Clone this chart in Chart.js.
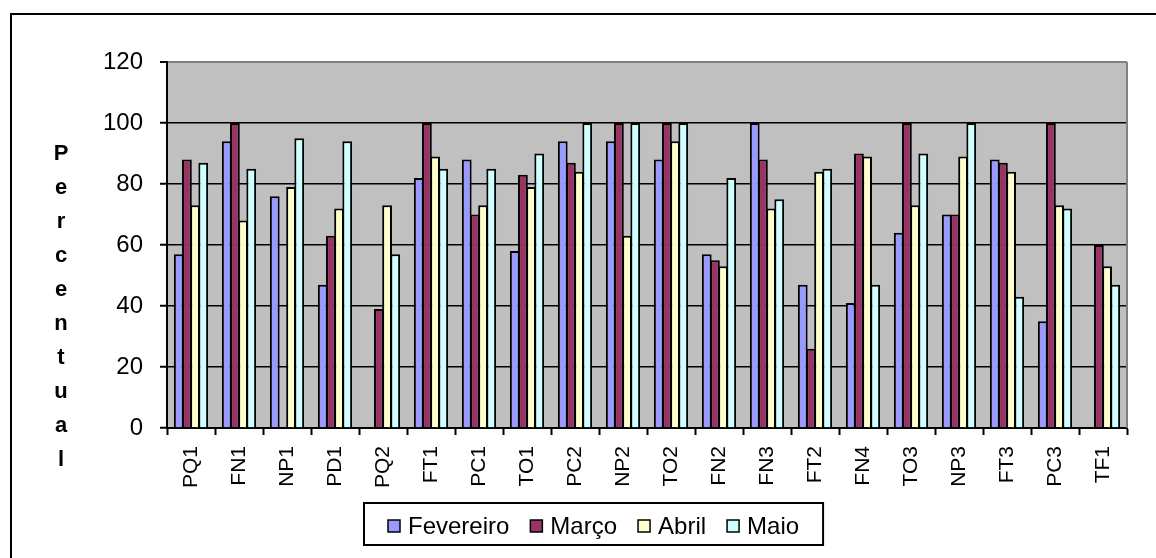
<!DOCTYPE html>
<html>
<head>
<meta charset="utf-8">
<script src="https://cdn.jsdelivr.net/npm/chart.js@4/dist/chart.umd.min.js"></script>
<style>
  html, body { margin: 0; padding: 0; background: #ffffff; }
  #wrap { width: 1156px; height: 558px; position: relative; }
</style>
</head>
<body>
<div id="wrap"><canvas id="chart" width="1156" height="558"></canvas></div>
<script>
// Categories (x axis) and monthly percentages per group
const categories = ['PQ1','FN1','NP1','PD1','PQ2','FT1','PC1','TO1','PC2','NP2',
                    'TO2','FN2','FN3','FT2','FN4','TO3','NP3','FT3','PC3','TF1'];
const fevereiro = [57, 94, 76, 47, null, 82, 88, 58, 94, 94, 88, 57, 100, 47, 41, 64, 70, 88, 35, null];
const marco     = [88, 100, null, 63, 39, 100, 70, 83, 87, 100, 100, 55, 88, 26, 90, 100, 70, 87, 100, 60];
const abril     = [73, 68, 79, 72, 73, 89, 73, 79, 84, 63, 94, 53, 72, 84, 89, 73, 89, 84, 73, 53];
const maio      = [87, 85, 95, 94, 57, 85, 85, 90, 100, 100, 100, 82, 75, 85, 47, 90, 100, 43, 72, 47];
const seriesNames = ['Fevereiro', 'Março', 'Abril', 'Maio'];
const yTicks = [0, 20, 40, 60, 80, 100, 120];
const yTitle = 'Percentual';

const FONT = "'Liberation Sans', Arial, sans-serif";
const colors = ['#9999FF', '#993366', '#FFFFCC', '#CCFFFF'];

// Gray plot background, gray right edge, outer frame, stacked y title and boxed legend
const decor = {
  id: 'decor',
  beforeDraw(chart) {
    const { ctx, chartArea: a } = chart;
    ctx.save();
    ctx.fillStyle = '#C0C0C0';
    ctx.fillRect(a.left, a.top, a.right - a.left, a.bottom - a.top);
    ctx.restore();
  },
  beforeDatasetsDraw(chart) {
    const { ctx, chartArea: a } = chart;
    ctx.save();
    ctx.strokeStyle = '#808080';
    ctx.lineWidth = 2;
    ctx.beginPath();
    ctx.moveTo(a.right, a.top);
    ctx.lineTo(a.right, a.bottom);
    ctx.stroke();
    ctx.restore();
  },
  afterDraw(chart) {
    const { ctx } = chart;
    ctx.save();
    // outer frame
    ctx.strokeStyle = '#000';
    ctx.lineWidth = 2;
    ctx.beginPath();
    ctx.moveTo(11, 560);
    ctx.lineTo(11, 14);
    ctx.lineTo(1160, 14);
    ctx.stroke();

    // vertical stacked axis title
    ctx.fillStyle = '#000';
    ctx.font = 'bold 22px ' + FONT;
    ctx.textAlign = 'center';
    ctx.textBaseline = 'middle';
    [...yTitle].forEach((ch, i) => ctx.fillText(ch, 61, 154 + i * 34));

    // legend
    ctx.font = '24px ' + FONT;
    ctx.textAlign = 'left';
    let x = 388;
    const cy = 526;
    chart.data.datasets.forEach((ds) => {
      ctx.fillStyle = ds.backgroundColor;
      ctx.fillRect(x, cy - 6, 12, 12);
      ctx.strokeStyle = '#000';
      ctx.lineWidth = 1.5;
      ctx.strokeRect(x, cy - 6, 12, 12);
      ctx.fillStyle = '#000';
      ctx.fillText(ds.label, x + 20, cy + 1);
      x += 20 + ctx.measureText(ds.label).width + 21;
    });
    const right = x - 21 + 24;
    ctx.strokeStyle = '#000';
    ctx.lineWidth = 2;
    ctx.strokeRect(364, 503, right - 364, 42);
    ctx.restore();
  }
};

const datasets = [fevereiro, marco, abril, maio].map((data, i) => ({
  label: seriesNames[i],
  data,
  backgroundColor: colors[i],
  borderColor: '#000',
  borderWidth: 2,
  borderSkipped: 'start',
  categoryPercentage: 0.68,
  barPercentage: 1.2
}));

new Chart(document.getElementById('chart'), {
  type: 'bar',
  data: { labels: categories, datasets },
  plugins: [decor],
  options: {
    responsive: false,
    animation: false,
    events: [],
    layout: { padding: { left: 0, right: 29, top: 62, bottom: 0 } },
    plugins: {
      legend: { display: false },
      tooltip: { enabled: false },
      title: { display: false }
    },
    scales: {
      x: {
        grid: {
          display: true,
          drawOnChartArea: false,
          drawTicks: true,
          tickLength: 7,
          tickColor: '#000',
          tickWidth: 2,
          offset: true
        },
        border: { display: true, color: '#000', width: 2 },
        ticks: {
          color: '#000',
          font: { family: FONT, size: 21 },
          minRotation: 90,
          maxRotation: 90,
          autoSkip: false,
          padding: 11
        },
        afterFit(scale) { scale.height = 130; }
      },
      y: {
        min: 0,
        max: 120,
        afterBuildTicks(scale) { scale.ticks = yTicks.map(v => ({ value: v })); },
        grid: {
          color: (c) => (c.tick && c.tick.value === 120 ? '#808080' : '#000'),
          lineWidth: (c) => (c.tick && c.tick.value === 120 ? 2 : 1.5),
          tickColor: '#000',
          tickLength: 7,
          tickWidth: 2,
          drawTicks: true
        },
        border: { display: true, color: '#000', width: 2 },
        ticks: {
          color: '#000',
          font: { family: FONT, size: 24 },
          padding: 17
        },
        afterFit(scale) { scale.width = 167; }
      }
    }
  }
});
</script>
</body>
</html>
